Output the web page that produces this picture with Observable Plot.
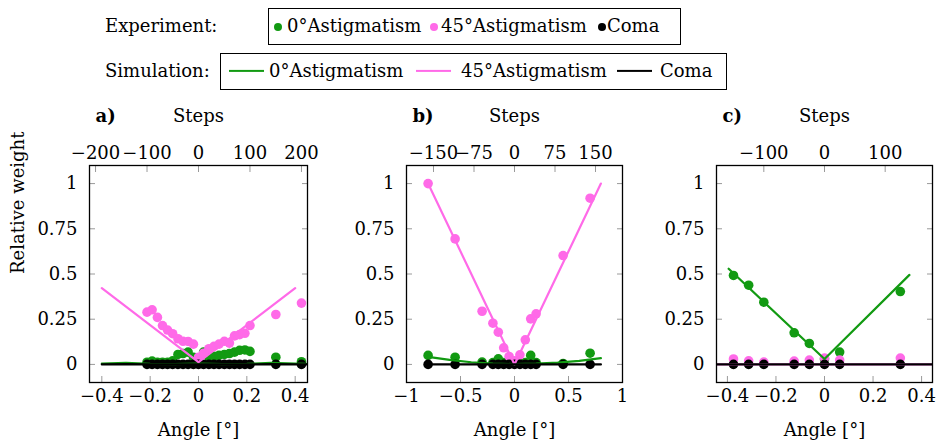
<!DOCTYPE html>
<html>
<head>
<meta charset="utf-8">
<script src="https://cdn.jsdelivr.net/npm/d3@7"></script>
<script src="https://cdn.jsdelivr.net/npm/@observablehq/plot@0.6"></script>
<style>
  body { margin: 0; background: white; font-family: "DejaVu Serif"; font-size: 18px; color: black; }
  #wrap { position: relative; width: 938px; height: 443px; overflow: hidden; }
  #legend { position: relative; width: 938px; height: 95px; }
  .lab { position: absolute; white-space: nowrap; line-height: 1; transform: translateY(-50%); }
  .box { position: absolute; border: 1.3px solid black; box-sizing: border-box; }
  .dot { position: absolute; width: 8px; height: 8px; border-radius: 50%; transform: translate(-50%, -50%); }
  .sw { position: absolute; height: 2.2px; transform: translateY(-50%); }
  #row { display: flex; }
  #row svg { display: block; overflow: visible; }
</style>
</head>
<body>
<div id="wrap">
  <div id="legend"></div>
  <div id="row"></div>
</div>
<script>
// ---------- colours ----------
const GREEN = "#129a12";
const PINK = "#ff6ae8";
const BLACK = "#000000";
const TICK = "#9a9a9a";
const FONT = "DejaVu Serif";

// ---------- legend ----------
const legendSeries = ["0°Astigmatism", "45°Astigmatism", "Coma"];
const legendColors = [GREEN, PINK, BLACK];

// ---------- common axes ----------
const yTicks = [0, 0.25, 0.5, 0.75, 1];

// ---------- panel a ----------
const aXTicks = [-0.4, -0.2, 0, 0.2, 0.4];
const aStepTicks = [-200, -100, 0, 100, 200];
const aDegPerStep = 0.00213;
const aExpX = [-0.213, -0.192, -0.170, -0.149, -0.128, -0.107, -0.085, -0.064, -0.043, -0.021, 0,
               0.021, 0.043, 0.064, 0.085, 0.107, 0.128, 0.149, 0.170, 0.192, 0.213, 0.320, 0.426];
const aExpGreen = [0.012, 0.018, 0.012, 0.012, 0.012, 0.02, 0.055, 0.06, 0.068, 0.04, 0.035,
                   0.068, 0.04, 0.045, 0.05, 0.055, 0.06, 0.068, 0.078, 0.08, 0.072, 0.04, 0.015];
const aExpPink = [0.289, 0.302, 0.26, 0.215, 0.19, 0.17, 0.142, 0.128, 0.127, 0.112, 0.04,
                  0.062, 0.087, 0.1, 0.112, 0.128, 0.118, 0.158, 0.165, 0.172, 0.215, 0.276, 0.339];
const aExpBlack = [0, 0, 0, 0, 0, 0, 0, 0, 0, 0, 0, 0, 0, 0, 0, 0, 0, 0, 0, 0, 0, 0, 0];
const aSimX = [-0.4, -0.3, -0.2, -0.1, 0, 0.1, 0.2, 0.3, 0.4];
const aSimPink = [0.422, 0.319, 0.217, 0.115, 0.013, 0.115, 0.217, 0.319, 0.422];
const aSimX2 = [-0.4, -0.3, -0.2, -0.1, 0, 0.1, 0.2, 0.3, 0.4, 0.45];
const aSimGreen = [0.005, 0.008, 0.003, 0.002, 0.004, 0.002, 0.003, 0.008, 0.005, 0.003];
const aSimBlack = [0, 0.002, 0, 0, 0, 0, 0, 0.002, 0, 0];

// ---------- panel b ----------
const bXTicks = [-1, -0.5, 0, 0.5, 1];
const bStepTicks = [-150, -75, 0, 75, 150];
const bDegPerStep = 0.005;
const bExpX = [-0.8, -0.55, -0.3, -0.2, -0.15, -0.1, -0.05, 0, 0.05, 0.1, 0.15, 0.2, 0.45, 0.7];
const bExpGreen = [0.05, 0.04, 0.013, 0.01, 0.031, 0.01, 0.01, 0.01, 0.01, 0.01, 0.05, 0.01, 0.005, 0.062];
const bExpPink = [1.0, 0.694, 0.294, 0.228, 0.178, 0.092, 0.044, 0.02, 0.053, 0.136, 0.252, 0.28, 0.602, 0.919];
const bExpBlack = [0, 0, 0, 0, 0, 0, 0, 0, 0, 0, 0, 0, 0, 0];
const bSimX = [-0.8, -0.6, -0.4, -0.2, 0, 0.2, 0.4, 0.6, 0.8];
const bSimPink = [1.0, 0.75, 0.5, 0.25, 0.0, 0.25, 0.5, 0.75, 1.0];
const bSimGreen = [0.042, 0.025, 0.012, 0.004, 0.002, 0.004, 0.01, 0.02, 0.035];
const bSimBlack = [0, 0, 0, 0, 0, 0, 0, 0, 0];

// ---------- panel c ----------
const cXTicks = [-0.4, -0.2, 0, 0.2, 0.4];
const cStepTicks = [-100, 0, 100];
const cDegPerStep = 0.0025;
const cExpX = [-0.375, -0.3125, -0.25, -0.125, -0.0625, 0, 0.0625, 0.3125];
const cExpGreen = [0.492, 0.438, 0.344, 0.175, 0.116, 0.03, 0.068, 0.403];
const cExpPink = [0.03, 0.02, 0.013, 0.018, 0.024, 0.035, 0.024, 0.035];
const cExpBlack = [0, 0, 0, 0, 0, 0, 0, 0];
const cSimGreenX = [-0.395, 0, 0.35];
const cSimGreen = [0.529, 0.03, 0.495];
const cSimX = [-0.445, 0, 0.445];
const cSimPink = [0, 0, 0];
const cSimBlack = [0, 0, 0];

// ---------- build legend ----------
const legend = document.getElementById("legend");
function add(html) { legend.insertAdjacentHTML("beforeend", html); }
add(`<div class="lab" style="left:105px;top:26px">Experiment:</div>`);
add(`<div class="box" style="left:268px;top:8px;width:413px;height:37px"></div>`);
add(`<div class="lab" style="left:105px;top:71px">Simulation:</div>`);
add(`<div class="box" style="left:220px;top:53px;width:507px;height:37px"></div>`);
const expDotX = [278, 434, 602];
const expTextX = [287, 441, 607];
const simLineX = [229, 416, 617];
const simTextX = [269, 461, 660];
legendSeries.forEach((name, i) => {
  add(`<div class="dot" style="left:${expDotX[i]}px;top:27px;background:${legendColors[i]}"></div>`);
  add(`<div class="lab" style="left:${expTextX[i]}px;top:26px">${name}</div>`);
  add(`<div class="sw" style="left:${simLineX[i]}px;top:71px;width:35px;background:${legendColors[i]}"></div>`);
  add(`<div class="lab" style="left:${simTextX[i]}px;top:71px">${name}</div>`);
});

// ---------- panels ----------
const fmt = d => (d < 0 ? "\u2212" : "") + Math.abs(d);
const rows = (xs, ys) => xs.map((x, i) => ({x, y: ys[i]}));

function panel(o) {
  const marks = [
    Plot.axisX({anchor: "bottom", ticks: o.xTicks, tickSize: -6, tickPadding: 13, tickFormat: fmt,
                stroke: TICK, fill: "black", label: null}),
    Plot.axisX({anchor: "top", ticks: o.stepTicks.map(s => s * o.degPerStep), tickSize: -6, tickPadding: 13,
                tickFormat: d => fmt(Math.round(d / o.degPerStep)), stroke: TICK, fill: "black", label: null}),
    Plot.axisY({anchor: "left", ticks: yTicks, tickSize: -6, tickPadding: 18, tickFormat: fmt,
                stroke: TICK, fill: "black", label: null}),
    Plot.axisY({anchor: "right", ticks: yTicks, tickSize: -6, tickFormat: () => "", stroke: TICK, label: null}),
    Plot.dot(rows(o.expX, o.expGreen), {x: "x", y: "y", r: 4.8, fill: GREEN, clip: true}),
    Plot.dot(rows(o.expX, o.expPink), {x: "x", y: "y", r: 4.8, fill: PINK, clip: true}),
    Plot.dot(rows(o.expX, o.expBlack), {x: "x", y: "y", r: 4.8, fill: BLACK, clip: true}),
    Plot.line(rows(o.simGreenX, o.simGreen), {x: "x", y: "y", stroke: GREEN, strokeWidth: 2.2, clip: true}),
    Plot.line(rows(o.simPinkX, o.simPink), {x: "x", y: "y", stroke: PINK, strokeWidth: 2.2, clip: true}),
    Plot.line(rows(o.simBlackX, o.simBlack), {x: "x", y: "y", stroke: BLACK, strokeWidth: 2.2, clip: true}),
    Plot.frame({stroke: "black", strokeWidth: 1.3}),
    Plot.text(["Angle [°]"], {text: d => d, frameAnchor: "bottom", dy: 48, lineAnchor: "middle", fill: "black"}),
    Plot.text(["Steps"], {text: d => d, frameAnchor: "top", dy: -49, lineAnchor: "middle", fill: "black"}),
    Plot.text([o.tag], {text: d => d, frameAnchor: "top-left", dx: 6, dy: -49, textAnchor: "start",
                        lineAnchor: "middle", fontWeight: "bold", fill: "black"})
  ];
  if (o.yLabel) {
    marks.push(Plot.text([o.yLabel], {text: d => d, frameAnchor: "left", dx: -71, rotate: -90,
                                      lineAnchor: "middle", fill: "black"}));
  }
  return Plot.plot({
    width: o.width, height: 348,
    marginLeft: o.ml, marginRight: o.mr, marginTop: 70, marginBottom: 61,
    x: {domain: o.xDomain}, y: {domain: [-0.1, 1.1]},
    style: {fontFamily: FONT, fontSize: "18px", background: "white", overflow: "visible"},
    marks
  });
}

const row = document.getElementById("row");
row.appendChild(panel({
  width: 330, ml: 89, mr: 23, xDomain: [-0.451, 0.451], xTicks: aXTicks, stepTicks: aStepTicks,
  degPerStep: aDegPerStep, tag: "a)", yLabel: "Relative weight",
  expX: aExpX, expGreen: aExpGreen, expPink: aExpPink, expBlack: aExpBlack,
  simGreenX: aSimX2, simGreen: aSimGreen, simPinkX: aSimX, simPink: aSimPink, simBlackX: aSimX2, simBlack: aSimBlack
}));
row.appendChild(panel({
  width: 310, ml: 76, mr: 18, xDomain: [-1, 1], xTicks: bXTicks, stepTicks: bStepTicks,
  degPerStep: bDegPerStep, tag: "b)",
  expX: bExpX, expGreen: bExpGreen, expPink: bExpPink, expBlack: bExpBlack,
  simGreenX: bSimX, simGreen: bSimGreen, simPinkX: bSimX, simPink: bSimPink, simBlackX: bSimX, simBlack: bSimBlack
}));
row.appendChild(panel({
  width: 298, ml: 76, mr: 6, xDomain: [-0.445, 0.445], xTicks: cXTicks, stepTicks: cStepTicks,
  degPerStep: cDegPerStep, tag: "c)",
  expX: cExpX, expGreen: cExpGreen, expPink: cExpPink, expBlack: cExpBlack,
  simGreenX: cSimGreenX, simGreen: cSimGreen, simPinkX: cSimX, simPink: cSimPink, simBlackX: cSimX, simBlack: cSimBlack
}));
</script>
</body>
</html>
